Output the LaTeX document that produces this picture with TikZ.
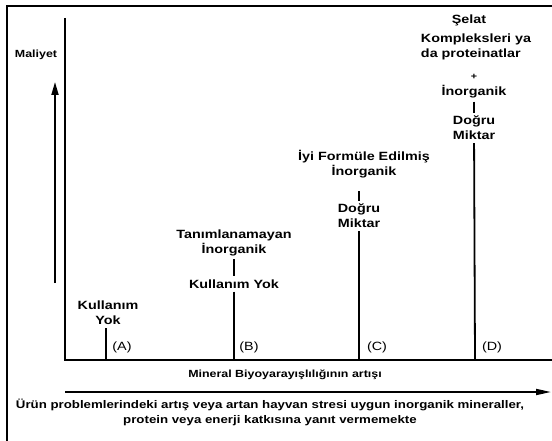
\documentclass[tikz,border=0pt]{standalone}
\usepackage{fontspec}
\setmainfont{Liberation Sans}[FakeStretch=1.2]
\usetikzlibrary{arrows.meta}

\begin{document}
\begin{tikzpicture}[x=1bp,y=-1bp,
  font=\fontsize{12}{15}\selectfont\bfseries,
  lbl/.style={align=center,inner sep=3bp},
  tag/.style={font=\fontsize{12}{15}\selectfont\mdseries,inner sep=1bp},
  small/.style={font=\fontsize{10.4}{15}\selectfont\bfseries,inner sep=1bp},
  bar/.style={line width=1.8bp},
  ar/.style={-{Triangle[length=13bp,width=7bp]},line width=1.8bp}]
\useasboundingbox (0,0) rectangle (552,441);

% ---- frame and axes ----
\draw[line width=2bp] (7,441) -- (7,6) -- (552,6);
\coordinate (O) at (65,360);
\coordinate (ytop) at (65,18);
\coordinate (xend) at (552,360);
\draw[bar] (ytop) -- (O) -- (xend);

\node[small] (cost) at (36,55) {Maliyet};
\coordinate (cost0) at (55,283);
\coordinate (cost1) at (55,82);
\draw[ar] (cost0) -- (cost1);

% ---- (A) ----
\node[lbl] (useA) at (108,313) {Kullanım\\Yok};
\coordinate (A0) at (106,360);
\draw[bar,line width=2.8bp] (A0) -- (A0 |- useA.south);
\node[tag] (tagA) at (122,347) {(A)};

% ---- (B) ----
\node[lbl] (unkB) at (234,243) {Tanımlanamayan\\İnorganik};
\node[lbl] (useB) at (234,284) {Kullanım Yok};
\coordinate (B0) at (234,360);
\draw[bar] (unkB) -- (useB);
\draw[bar] (useB) -- (B0);
\node[tag] (tagB) at (249,347) {(B)};

% ---- (C) ----
\node[lbl] (goodC) at (364,164) {İyi Formüle Edilmiş\\İnorganik};
\node[lbl] (rightC) at (359,216) {Doğru\\Miktar};
\coordinate (C0) at (359,360);
\draw[bar,shorten >=10bp] (rightC.north) -- (rightC.north |- goodC.south);
\draw[bar] (rightC) -- (C0);
\node[tag] (tagC) at (377,347) {(C)};

% ---- (D) ----
\node[lbl] (chelD) at (469,20) {Şelat};
\node[lbl,align=left] (cplxD) at (476,47) {Kompleksleri ya\\da proteinatlar};
\node[small,font=\fontsize{9}{10}\selectfont\bfseries] (plusD) at (474,77) {+};
\node[lbl] (inorgD) at (474,92) {İnorganik};
\node[lbl] (rightD) at (474,128) {Doğru\\Miktar};
\coordinate (D0) at (475,360);
\draw[bar] (inorgD) -- (rightD);
\draw[bar] (rightD) -- (D0);
\node[tag] (tagD) at (492,347) {(D)};

% ---- x axis caption and note ----
\node[small] (xcap) at (285,375) {Mineral Biyoyarayışlılığının artışı};
\coordinate (h0) at (65,392);
\coordinate (h1) at (551,392);
\draw[ar,-{Triangle[length=15bp,width=6bp]}] (h0) -- (h1);
\node[small,font=\fontsize{11.1}{15}\selectfont\bfseries,align=center] (note) at (270,412)
  {Ürün problemlerindeki artış veya artan hayvan stresi uygun inorganik mineraller,\\protein veya enerji katkısına yanıt vermemekte};
\end{tikzpicture}
\end{document}
